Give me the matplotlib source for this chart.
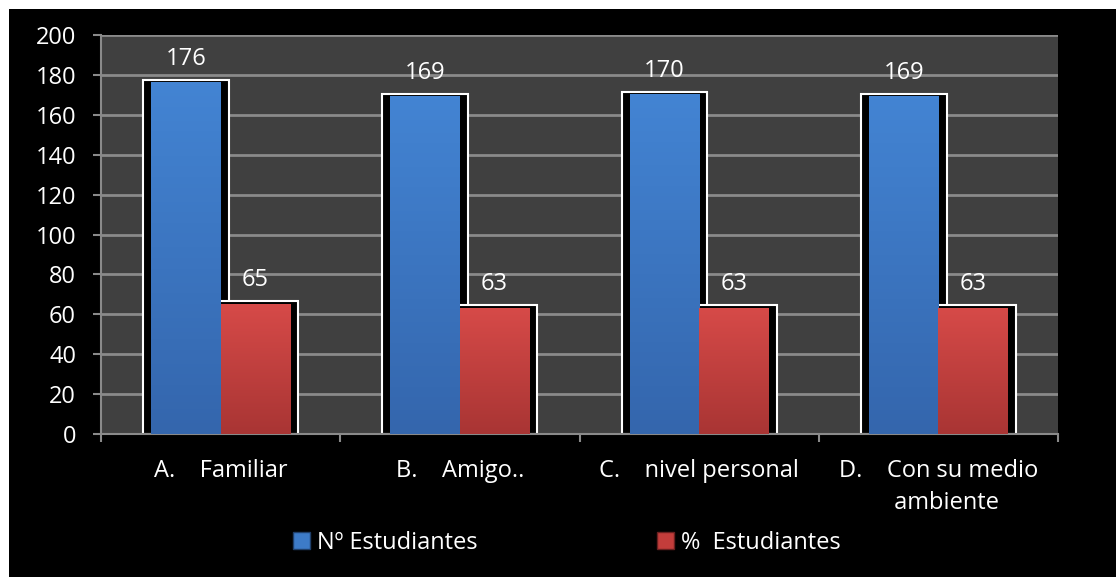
import numpy as np
import matplotlib.pyplot as plt
from matplotlib.patches import Rectangle, Patch
from matplotlib.colors import LinearSegmentedColormap

plt.rcParams['font.family'] = ['Open Sans', 'DejaVu Sans']
plt.rcParams['font.size'] = 17

# data
categorias = ["A.    Familiar", "B.    Amigo..", "C.    nivel personal",
              "D.    Con su medio\n         ambiente"]
n_estudiantes = [176, 169, 170, 169]
pct_estudiantes = [65, 63, 63, 63]
series = ["Nº Estudiantes", "%  Estudiantes"]

azul = '#3d7bc8'
rojo = '#c33d3b'
grid_col = '#8a8a8a'
cm_azul = LinearSegmentedColormap.from_list('az', ['#3466ad', '#4384d3'])
cm_rojo = LinearSegmentedColormap.from_list('ro', ['#a93534', '#d64a48'])

fig = plt.figure(figsize=(11.16, 5.77), dpi=100)
fig.patch.set_facecolor('white')
# black chart area (white strip on top and left)
fig.patches.append(Rectangle((9/1116, 0), 1, 1 - 9/577, transform=fig.transFigure,
                             facecolor='black', edgecolor='none', zorder=-10))

ax = fig.add_axes([101/1116, 1 - 434/577, 957/1116, 399/577])
ax.set_facecolor('#404040')

x = np.arange(len(categorias))
w = 0.29
ext = 0.034

ax.set_axisbelow(True)
ax.yaxis.grid(True, color=grid_col, linewidth=2)

for vals, off in [(n_estudiantes, -w/2), (pct_estudiantes, w/2)]:
    ax.bar(x + off, np.array(vals) + 1.6, width=w + 2*ext, color='black',
           edgecolor='white', linewidth=1.5, zorder=2)

b1 = ax.bar(x - w/2, n_estudiantes, width=w, color=azul, zorder=3)
b2 = ax.bar(x + w/2, pct_estudiantes, width=w, color=rojo, zorder=3)

# vertical gradient on each bar
grad = np.linspace(0, 1, 100).reshape(-1, 1)
for bars, cmap in [(b1, cm_azul), (b2, cm_rojo)]:
    for r in bars:
        x0, h = r.get_x(), r.get_height()
        ax.imshow(grad, extent=[x0, x0 + r.get_width(), 0, h], origin='lower',
                  aspect='auto', cmap=cmap, zorder=3.5)

for bars, vals in [(b1, n_estudiantes), (b2, pct_estudiantes)]:
    for r, v in zip(bars, vals):
        ax.annotate(str(v), (r.get_x() + r.get_width()/2, v), xytext=(0, 13),
                    textcoords='offset points', ha='center', va='baseline',
                    color='white', fontsize=17)

ax.set_ylim(0, 200)
ax.set_yticks(np.arange(0, 201, 20))
ax.set_xlim(-0.5, len(categorias) - 0.5)
ax.set_xticks(np.arange(-0.5, len(categorias)), minor=False)
ax.set_xticklabels([])
ax.set_xticks(x, minor=True)
ax.set_xticklabels(categorias, minor=True, color='white', fontsize=17,
                   multialignment='left', linespacing=1.45)
ax.tick_params(axis='x', which='minor', length=0, pad=18)
ax.tick_params(axis='x', which='major', length=6, width=1.5, color=grid_col)
ax.tick_params(axis='y', length=6, width=1.5, color=grid_col, labelcolor='white', pad=12)

for s in ['top', 'right']:
    ax.spines[s].set_visible(False)
for s in ['left', 'bottom']:
    ax.spines[s].set_color(grid_col)
    ax.spines[s].set_linewidth(1.5)

handles = [Patch(facecolor=azul, edgecolor='#1f3f6a'), Patch(facecolor=rojo, edgecolor='#6a1f1f')]
leg = fig.legend(handles, series, loc='center', bbox_to_anchor=(567/1116, 1 - 543/577),
                 ncol=2, frameon=False, fontsize=17, handlelength=0.7, handleheight=0.7,
                 handletextpad=0.3, columnspacing=7.6, labelcolor='white')

fig.savefig('out.png', dpi=100, facecolor=fig.get_facecolor())
